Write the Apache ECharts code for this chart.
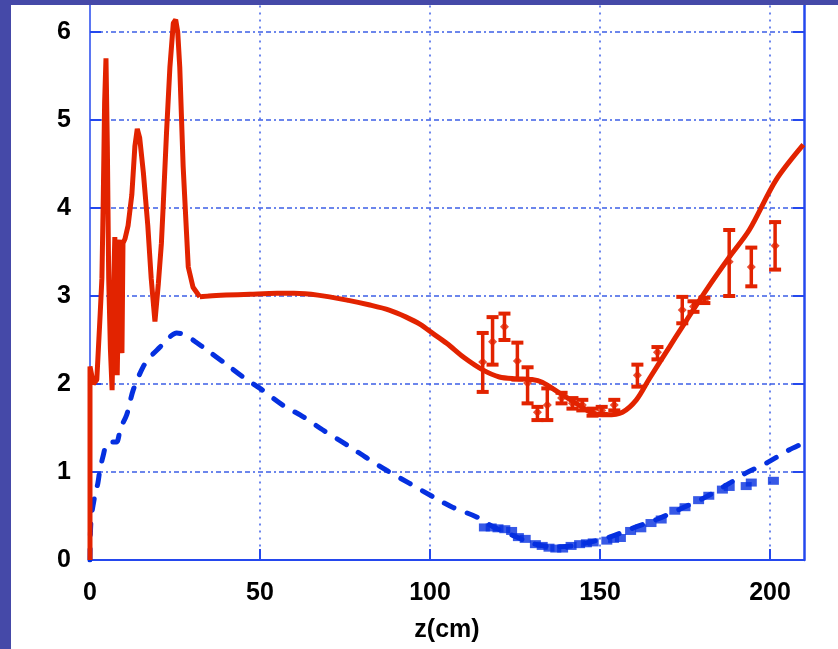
<!DOCTYPE html>
<html><head><meta charset="utf-8">
<script src="https://cdn.jsdelivr.net/npm/echarts@6/dist/echarts.min.js"></script>
<style>html,body{margin:0;padding:0;background:#fff}#c{width:838px;height:649px}</style>
</head><body><div id="c"></div>
<script>
// ---- data ----
const xTicks = [0, 50, 100, 150, 200];
const yTicks = [0, 1, 2, 3, 4, 5, 6];
const xLabelName = 'z(cm)';

// red solid theory curve [z, value]
const redCurve = [
  [0,0],[0,2.2],[1,2.0],[2,2.05],[3,2.8],[3.5,3.2],[3.9,4.1],[4.3,5.2],[4.7,5.7],[5.1,4.7],[5.5,3.2],[6,2.4],[6.5,1.93],
  [7,3.2],[7.3,3.67],[7.7,2.8],[8.0,2.1],[8.4,3.0],[8.8,3.64],[9.1,2.6],[9.4,2.35],[9.7,3.6],[10.3,3.65],[11.2,3.8],
  [12.3,4.15],[13.2,4.7],[13.9,4.9],[14.6,4.8],[15.7,4.4],[17,3.8],[18,3.2],[19.1,2.71],[20.1,3.14],[21,3.6],[21.5,4.0],
  [22.5,4.85],[23.5,5.6],[24.5,6.1],[25.2,6.14],[25.8,6.0],[26.4,5.6],[27.4,4.47],[28.4,3.71],[28.9,3.33],[30.3,3.1],
  [32.3,2.99],[35,3.0],[40,3.01],[47,3.02],[55,3.03],[60,3.03],[67,3.01],[76,2.95],[82,2.9],[88,2.84],[93,2.76],
  [97,2.68],[101,2.57],[105,2.46],[110,2.3],[115.5,2.16],[120.4,2.08],[125.4,2.06],[130,2.05],[133,2.02],[138,1.9],
  [143,1.78],[147.8,1.67],[151.9,1.65],[156.6,1.68],[160.7,1.82],[164.5,2.06],[170.4,2.42],[174.2,2.65],[181.3,3.07],
  [188,3.44],[193.9,3.75],[201.8,4.32],[209.8,4.72]
];

// blue dashed theory curve [z, value]
const blueCurve = [
  [0,0],[0.3,0.45],[1.5,0.75],[2.3,0.87],[2.9,1.02],[3.9,1.19],[5,1.33],[6.5,1.34],[7.8,1.34],[9,1.5],[10.8,1.65],
  [12.7,1.93],[15.7,2.2],[18,2.32],[20.6,2.42],[23,2.52],[25.5,2.58],[28.4,2.55],[31,2.48],[34.3,2.39],[40.2,2.22],
  [45,2.08],[50,1.95],[56.7,1.76],[62.6,1.63],[68.4,1.48],[75.5,1.31],[81.4,1.16],[87.2,1.02],[94,0.87],[100.8,0.72],
  [106.6,0.6],[113.7,0.49],[118.4,0.38],[124.3,0.28],[130,0.19],[136,0.15],[141.9,0.16],[147.8,0.21],[152.8,0.26],
  [159.5,0.36],[166.6,0.46],[174.2,0.59],[181.3,0.72],[188,0.87],[193,0.99],[198.9,1.1],[205.6,1.25],[210,1.33]
];

// red measured points with error bars
const redPtsZ  = [115.5,118.4,121.9,125.7,128.7,131.6,134.5,138.7,141.9,144.8,147.8,150.5,154.2,161.0,166.9,174.2,177.5,180.7,188.0,194.5,201.5];
const redPtsY  = [2.25, 2.48, 2.65, 2.26, 2.01, 1.68, 1.76, 1.84, 1.78, 1.76, 1.68, 1.70, 1.76, 2.10, 2.36, 2.84, 2.88, 2.95, 3.39, 3.33, 3.57];
const redPtsLo = [1.91, 2.22, 2.50, 2.05, 1.78, 1.59, 1.59, 1.78, 1.72, 1.70, 1.64, 1.66, 1.70, 1.97, 2.28, 2.69, 2.82, 2.92, 3.00, 3.11, 3.30];
const redPtsHi = [2.58, 2.76, 2.80, 2.47, 2.19, 1.74, 1.95, 1.90, 1.84, 1.82, 1.72, 1.74, 1.82, 2.22, 2.42, 2.99, 2.94, 2.98, 3.75, 3.55, 3.84];

// blue measured points
const bluePtsZ = [116,118,120,122,124,126,128,131,133,135,137,139,141.5,144,146,148,152,154,156,159,162,165,168,172,175,179,182,186,188,193,194.5,201];
const bluePtsY = [0.37,0.37,0.36,0.35,0.33,0.26,0.24,0.18,0.16,0.14,0.13,0.13,0.16,0.18,0.19,0.20,0.22,0.24,0.25,0.33,0.36,0.42,0.46,0.56,0.60,0.68,0.73,0.80,0.83,0.84,0.88,0.90];

// ---- chart ----
const RED = '#e22300', BLUE = '#0530e0', GRID = '#3d5fe6', AXIS = '#2448ee', FRAME = '#4549a8';
const FONT = 'Liberation Sans, Arial, sans-serif';

const redErr = redPtsZ.map((z, i) => [z, redPtsY[i], redPtsLo[i], redPtsHi[i]]);
const redPts = redPtsZ.map((z, i) => [z, redPtsY[i]]);
const bluePts = bluePtsZ.map((z, i) => [z, bluePtsY[i]]);
const redNear = redCurve.filter(p => p[0] <= 32.3);
const redFar = redCurve.filter(p => p[0] >= 32.3);

const chart = echarts.init(document.getElementById('c'));
chart.setOption({
  animation: false,
  backgroundColor: '#ffffff',
  grid: { left: 90, right: 34, top: 5.6, bottom: 89 },
  xAxis: {
    type: 'value', min: 0, max: 210, interval: 50,
    name: xLabelName, nameLocation: 'middle', nameGap: 58,
    nameTextStyle: { color: '#000', fontSize: 25, fontWeight: 'bold', fontFamily: FONT },
    axisLine: { show: true, onZero: false, lineStyle: { color: AXIS, width: 2 } },
    axisTick: { show: true, inside: true, length: 11, lineStyle: { color: AXIS, width: 2 } },
    axisLabel: { show: true, margin: 21, color: '#000', fontSize: 25, fontWeight: 'bold', fontFamily: FONT,
      showMaxLabel: false,
      formatter: v => xTicks.includes(v) ? String(v) : '' },
    splitLine: { show: true, showMinLine: false, showMaxLine: false, lineStyle: { color: GRID, width: 1.5, type: [2, 5] } }
  },
  yAxis: [{
    type: 'value', min: 0, max: 6.3, interval: 1, position: 'left',
    axisLine: { show: true, onZero: false, lineStyle: { color: AXIS, width: 1.5 } },
    axisTick: { show: true, inside: true, length: 11, lineStyle: { color: AXIS, width: 2 } },
    axisLabel: { show: true, margin: 19, color: '#000', fontSize: 25, fontWeight: 'bold', fontFamily: FONT,
      showMaxLabel: false,
      formatter: v => yTicks.includes(v) ? String(v) : '' },
    splitLine: { show: true, showMinLine: false, showMaxLine: false, lineStyle: { color: GRID, width: 1.5, type: [5, 3, 5, 3, 2, 3] } }
  }, {
    type: 'value', min: 0, max: 6.3, interval: 1, position: 'right',
    axisLine: { show: true, onZero: false, lineStyle: { color: AXIS, width: 2.5 } },
    axisTick: { show: true, inside: true, length: 11, customValues: yTicks, lineStyle: { color: AXIS, width: 2 } },
    axisLabel: { show: false },
    splitLine: { show: false }
  }],
  series: [
    { type: 'line', data: blueCurve, showSymbol: false, symbol: 'none', z: 3, smooth: 0.3,
      lineStyle: { color: BLUE, width: 5, type: [11, 14], cap: 'round' } },
    { type: 'scatter', data: bluePts, symbol: 'rect', symbolSize: [11, 8], z: 4,
      itemStyle: { color: BLUE } },
    { type: 'line', data: redNear, showSymbol: false, symbol: 'none', z: 5,
      lineStyle: { color: RED, width: 5 } },
    { type: 'line', data: redFar, showSymbol: false, symbol: 'none', z: 5, smooth: 0.3,
      lineStyle: { color: RED, width: 5 } },
    { type: 'custom', data: redErr, z: 6, encode: { x: 0, y: [1, 2, 3] },
      renderItem: function (params, api) {
        const x = api.value(0), lo = api.value(2), hi = api.value(3);
        const pLo = api.coord([x, lo]), pHi = api.coord([x, hi]);
        const hw = 6;
        const st = { stroke: RED, lineWidth: 3.5 };
        const sc = { stroke: RED, lineWidth: 4 };
        return { type: 'group', children: [
          { type: 'line', shape: { x1: pLo[0], y1: pLo[1], x2: pHi[0], y2: pHi[1] }, style: st },
          { type: 'line', shape: { x1: pLo[0] - hw, y1: pLo[1], x2: pLo[0] + hw, y2: pLo[1] }, style: sc },
          { type: 'line', shape: { x1: pHi[0] - hw, y1: pHi[1], x2: pHi[0] + hw, y2: pHi[1] }, style: sc }
        ]};
      } },
    { type: 'scatter', data: redPts, symbol: 'diamond', symbolSize: 9, z: 7,
      itemStyle: { color: RED } }
  ],
  graphic: [
    { type: 'rect', shape: { x: 0, y: 0, width: 11, height: 649 }, style: { fill: FRAME }, z: 100 },
    { type: 'rect', shape: { x: 0, y: 0, width: 838, height: 5 }, style: { fill: FRAME }, z: 100 }
  ]
});
</script>
</body></html>
